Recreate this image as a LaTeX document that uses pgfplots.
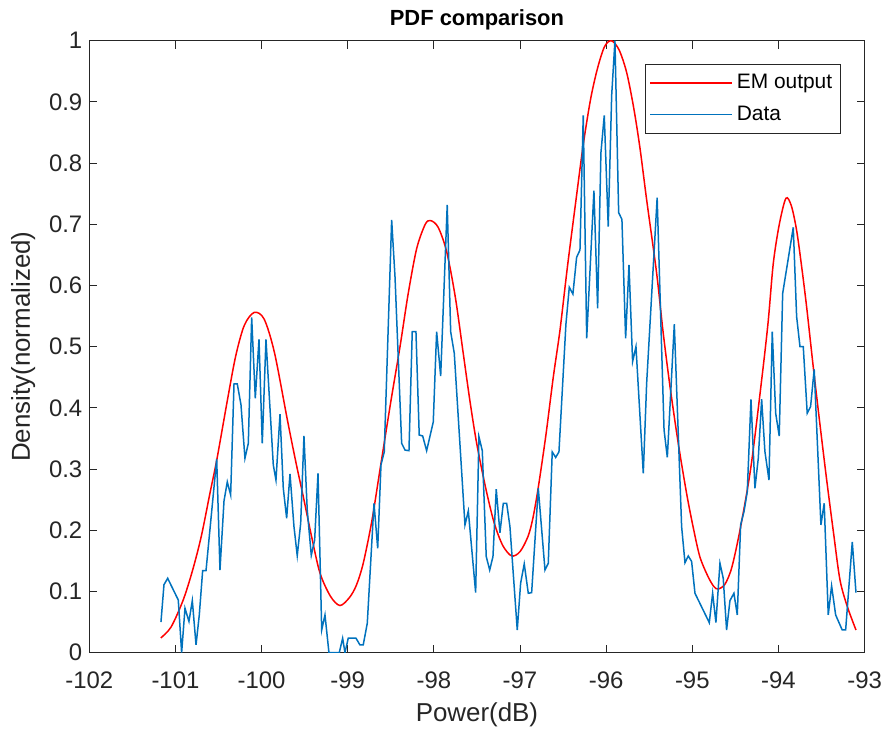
\documentclass[border=0pt]{standalone}
\usepackage{fontspec}
\setmainfont{Liberation Sans}
\usepackage{pgfplots}
\pgfplotsset{compat=1.18}
\definecolor{matblue}{RGB}{0,114,189}
\definecolor{axgray}{RGB}{38,38,38}

\begin{document}
\begin{tikzpicture}
\begin{axis}[
    scale only axis, width=387.7bp, height=306bp,
    xmin=-102, xmax=-93, ymin=0, ymax=1,
    xtick={-102,-101,-100,-99,-98,-97,-96,-95,-94,-93},
    ytick={0,0.1,0.2,0.3,0.4,0.5,0.6,0.7,0.8,0.9,1},
    yticklabels={0,0.1,0.2,0.3,0.4,0.5,0.6,0.7,0.8,0.9,1},
    tick align=inside, tick pos=both, major tick length=4bp,
    axis line style={axgray, line width=0.4bp},
    every tick/.style={axgray, line width=0.4bp},
    tick label style={font=\fontsize{12}{14}\selectfont, text=axgray},
    xticklabel style={yshift=-6bp},
    /pgf/number format/assume math mode=true,
    title={PDF comparison},
    title style={font=\fontsize{11}{13}\selectfont\bfseries, yshift=-4bp},
    xlabel={Power(dB)}, ylabel={Density(normalized)},
    label style={font=\fontsize{13}{15}\selectfont, text=axgray},
    legend style={at={(1,1)}, anchor=north east, xshift=-12bp, yshift=-11.7bp,
        draw=axgray, line width=0.4bp, font=\fontsize{10.5}{12}\selectfont,
        inner xsep=2bp, inner ysep=3bp, row sep=3bp, cells={anchor=west}},
    legend image code/.code={
        \path (-5bp,0bp) -- (0bp,0bp);
        \draw[#1] (0bp,0bp) -- (36bp,0bp);},
]
\coordinate (SW) at (rel axis cs:0,0);
\coordinate (NE) at (rel axis cs:1,1);

\addplot[red, line width=0.75bp, smooth] coordinates {
(-101.17,0.024) (-101.05,0.042) (-100.91,0.086) (-100.80,0.135) (-100.70,0.19)
(-100.60,0.26) (-100.52,0.315) (-100.40,0.41) (-100.30,0.485) (-100.20,0.535)
(-100.085,0.556) (-99.97,0.545) (-99.85,0.49) (-99.70,0.38) (-99.60,0.31)
(-99.516,0.255) (-99.42,0.19) (-99.322,0.13) (-99.20,0.092) (-99.09,0.077)
(-98.98,0.09) (-98.90,0.11) (-98.82,0.146) (-98.72,0.215) (-98.626,0.2985)
(-98.50,0.41) (-98.393,0.50) (-98.30,0.585) (-98.20,0.66) (-98.10,0.70)
(-98.037,0.706) (-97.95,0.695) (-97.851,0.655) (-97.75,0.58) (-97.659,0.489)
(-97.58,0.41) (-97.503,0.342) (-97.40,0.27) (-97.30,0.212) (-97.20,0.175)
(-97.097,0.158) (-97.00,0.165) (-96.907,0.19) (-96.85,0.22) (-96.788,0.27)
(-96.70,0.355) (-96.614,0.45) (-96.536,0.527) (-96.45,0.63) (-96.35,0.74)
(-96.266,0.83) (-96.18,0.905) (-96.10,0.955) (-96.02,0.99) (-95.94,1.0)
(-95.85,0.985) (-95.762,0.948) (-95.68,0.89) (-95.608,0.825) (-95.53,0.74)
(-95.414,0.62) (-95.34,0.525) (-95.259,0.435) (-95.163,0.342) (-95.066,0.26)
(-94.99,0.205) (-94.913,0.157) (-94.82,0.125) (-94.75,0.108) (-94.699,0.104)
(-94.62,0.112) (-94.54,0.14) (-94.44,0.205) (-94.319,0.304) (-94.195,0.4456)
(-94.12,0.54) (-94.06,0.636) (-93.99,0.70) (-93.913,0.7425) (-93.85,0.73)
(-93.789,0.69) (-93.73,0.63) (-93.673,0.565) (-93.596,0.467) (-93.52,0.375)
(-93.44,0.282) (-93.36,0.195) (-93.286,0.119) (-93.20,0.075) (-93.10,0.037)
};
\addlegendentry{EM output}

\addplot[matblue, line width=0.75bp] coordinates {
(-101.168,0.050) (-101.133,0.111) (-101.090,0.1215) (-100.967,0.086) (-100.928,0.0)
(-100.889,0.0725) (-100.843,0.051) (-100.804,0.085) (-100.761,0.0126) (-100.723,0.0616)
(-100.684,0.134) (-100.645,0.134) (-100.521,0.3165) (-100.483,0.135) (-100.436,0.248)
(-100.398,0.279) (-100.359,0.2577) (-100.320,0.439) (-100.282,0.439) (-100.239,0.405)
(-100.193,0.3176) (-100.154,0.342) (-100.115,0.548) (-100.073,0.4157) (-100.030,0.512)
(-99.992,0.342) (-99.949,0.512) (-99.864,0.3067) (-99.833,0.282) (-99.786,0.3895)
(-99.748,0.2686) (-99.709,0.2196) (-99.670,0.292) (-99.624,0.206) (-99.586,0.1585)
(-99.546,0.2114) (-99.508,0.354) (-99.470,0.233) (-99.423,0.159) (-99.384,0.184)
(-99.345,0.293) (-99.302,0.037) (-99.264,0.0616) (-99.218,0) (-99.098,0)
(-99.059,0.0235) (-99.032,0) (-98.994,0.0235) (-98.904,0.0235) (-98.858,0.0126)
(-98.820,0.0126) (-98.773,0.048) (-98.695,0.244) (-98.652,0.1705) (-98.614,0.3067)
(-98.576,0.328) (-98.490,0.707) (-98.451,0.614) (-98.374,0.342) (-98.335,0.331)
(-98.289,0.330) (-98.251,0.5245) (-98.208,0.5245) (-98.170,0.3557) (-98.130,0.354)
(-98.084,0.330) (-98.007,0.377) (-97.968,0.5245) (-97.921,0.452) (-97.845,0.7315)
(-97.805,0.5245) (-97.763,0.489) (-97.639,0.2087) (-97.600,0.2315) (-97.515,0.098)
(-97.477,0.353) (-97.438,0.330) (-97.392,0.157) (-97.352,0.135) (-97.314,0.157)
(-97.276,0.267) (-97.233,0.196) (-97.194,0.244) (-97.155,0.244) (-97.117,0.206)
(-97.032,0.037) (-96.993,0.1134) (-96.951,0.145) (-96.904,0.097) (-96.865,0.098)
(-96.788,0.2686) (-96.710,0.135) (-96.672,0.146) (-96.626,0.328) (-96.586,0.319)
(-96.548,0.328) (-96.467,0.537) (-96.428,0.597) (-96.386,0.586) (-96.343,0.646)
(-96.304,0.658) (-96.266,0.878) (-96.226,0.5137) (-96.142,0.755) (-96.099,0.5627)
(-96.061,0.8165) (-96.022,0.878) (-95.976,0.696) (-95.936,0.9106) (-95.898,1.0)
(-95.855,0.719) (-95.817,0.708) (-95.774,0.5137) (-95.735,0.6335) (-95.693,0.4755)
(-95.654,0.500) (-95.569,0.293) (-95.530,0.44) (-95.408,0.7435) (-95.328,0.364)
(-95.290,0.319) (-95.209,0.5366) (-95.124,0.206) (-95.085,0.147) (-95.047,0.158)
(-95.008,0.149) (-94.969,0.097) (-94.803,0.049) (-94.764,0.097) (-94.726,0.049)
(-94.679,0.146) (-94.641,0.1215) (-94.602,0.037) (-94.563,0.085) (-94.517,0.097)
(-94.478,0.0616) (-94.439,0.2087) (-94.400,0.2304) (-94.362,0.263) (-94.319,0.414)
(-94.273,0.2686) (-94.234,0.3176) (-94.195,0.414) (-94.157,0.3284) (-94.110,0.282)
(-94.072,0.5245) (-94.032,0.391) (-93.991,0.354) (-93.951,0.587) (-93.828,0.695)
(-93.789,0.549) (-93.750,0.500) (-93.712,0.500) (-93.666,0.391) (-93.627,0.402)
(-93.585,0.463) (-93.507,0.2087) (-93.469,0.244) (-93.422,0.0616) (-93.383,0.109)
(-93.336,0.0616) (-93.260,0.037) (-93.220,0.037) (-93.143,0.181) (-93.100,0.098)
};
\addlegendentry{Data}
\end{axis}
\pgfresetboundingbox
\path[use as bounding box] ([shift={(-44.65bp,-39.65bp)}]SW) rectangle ([shift={(9.7bp,20.35bp)}]NE);
\end{tikzpicture}
\end{document}
